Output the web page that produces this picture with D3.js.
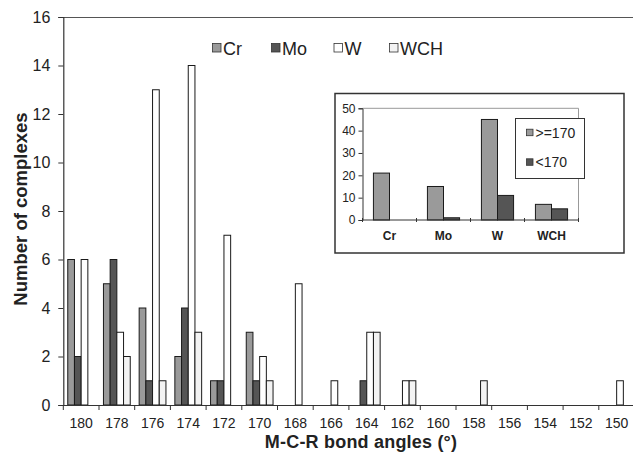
<!DOCTYPE html>
<html><head><meta charset="utf-8">
<script src="https://cdn.jsdelivr.net/npm/d3@7/dist/d3.min.js"></script>
<style>
html,body{margin:0;padding:0;background:#fff;}
svg{display:block;font-family:"Liberation Sans",Arial,sans-serif;}
</style></head>
<body>
<svg id="chart" width="633" height="453"></svg>
<script>
// ---- data ----
const angles = [180,178,176,174,172,170,168,166,164,162,160,158,156,154,152,150];
const seriesNames = ["Cr","Mo","W","WCH"];
const crValues  = [6,5,4,2,1,3,0,0,0,0,0,0,0,0,0,0];
const moValues  = [2,6,1,4,1,1,0,0,1,0,0,0,0,0,0,0];
const wValues   = [6,3,13,14,7,2,5,1,3,1,0,0,0,0,0,1];
const wchValues = [0,2,1,3,0,1,0,0,3,1,0,1,0,0,0,0];
const yTicks = [0,2,4,6,8,10,12,14,16];

const insetGroups = ["Cr","Mo","W","WCH"];
const insetSeries = [">=170","<170"];
const insetGe170 = [21,15,45,7];
const insetLt170 = [0,1,11,5];
const insetTicks = [0,10,20,30,40,50];

// ---- styling ----
const colors = {Cr:"#9a9a9a", Mo:"#555555", W:"#ffffff", WCH:"#f3f3f3"};
const insetColors = {">=170":"#9a9a9a", "<170":"#555555"};
const ink = "#222";

const svg = d3.select("#chart");

// ---- main chart ----
const M = {left:63.3, right:634.5, top:17, bottom:405};
const x = d3.scaleBand().domain(angles).range([M.left, M.right]).paddingInner(0).paddingOuter(0);
const xs = d3.scaleBand().domain(seriesNames).range([0, x.bandwidth()]).paddingInner(0).paddingOuter(0.665);
const y = d3.scaleLinear().domain([0,16]).range([M.bottom, M.top]);

const seriesData = {Cr:crValues, Mo:moValues, W:wValues, WCH:wchValues};

// top border
svg.append("line").attr("x1",M.left).attr("x2",633).attr("y1",M.top+0.5).attr("y2",M.top+0.5)
  .attr("stroke","#555").attr("stroke-width",1.2);

// bars
seriesNames.forEach(s => {
  svg.append("g").selectAll("rect")
    .data(angles.map((a,i)=>({a, v:seriesData[s][i]})).filter(d=>d.v>0))
    .join("rect")
    .attr("x", d => x(d.a) + xs(s))
    .attr("width", xs.bandwidth())
    .attr("y", d => y(d.v))
    .attr("height", d => y(0) - y(d.v))
    .attr("fill", colors[s])
    .attr("stroke", "#1a1a1a")
    .attr("stroke-width", 1);
});

// y axis
const yAxis = d3.axisLeft(y).tickValues(yTicks).tickSize(5).tickPadding(8);
const gy = svg.append("g").attr("transform",`translate(${M.left},0)`).call(yAxis);
gy.select(".domain").attr("stroke","#333").attr("stroke-width",1.2);
gy.selectAll(".tick line").attr("stroke","#333");
gy.selectAll("text").attr("font-size",16).attr("fill",ink).attr("font-family","Liberation Sans, Arial, sans-serif");

// x axis (tick marks on band boundaries)
const gx = svg.append("g").attr("transform",`translate(0,${M.bottom})`);
gx.append("line").attr("x1",M.left).attr("x2",633).attr("y1",0.5).attr("y2",0.5).attr("stroke","#333").attr("stroke-width",1.2);
gx.selectAll("line.tk").data(angles).join("line").attr("class","tk")
  .attr("x1", d=>x(d)).attr("x2", d=>x(d)).attr("y1",0).attr("y2",5).attr("stroke","#333");
const xAxis = d3.axisBottom(x).tickSize(0).tickPadding(13);
const gxl = svg.append("g").attr("transform",`translate(0,${M.bottom})`).call(xAxis);
gxl.select(".domain").remove();
gxl.selectAll("text").attr("font-size",14).attr("fill",ink).attr("font-family","Liberation Sans, Arial, sans-serif");

// axis titles
svg.append("text").attr("x",361).attr("y",448).attr("text-anchor","middle")
  .attr("font-size",18).attr("font-weight","bold").attr("letter-spacing",0.2).attr("fill",ink).text("M-C-R bond angles (°)");
svg.append("text").attr("transform","translate(26.5,209) rotate(-90)").attr("text-anchor","middle")
  .attr("font-size",18.5).attr("font-weight","bold").attr("fill",ink).text("Number of complexes");

// legend
const legendX = [212.5, 271.5, 334, 389.5];
const lg = svg.append("g");
seriesNames.forEach((s,i) => {
  lg.append("rect").attr("x",legendX[i]).attr("y",43.5).attr("width",8.5).attr("height",8.5)
    .attr("fill",colors[s]).attr("stroke","#333").attr("stroke-width",0.8);
  lg.append("text").attr("x",legendX[i]+10.5).attr("y",54.5).attr("font-size",18).attr("fill",ink).text(s);
});

// ---- inset ----
const I = {x0:335, y0:93.5, x1:624, y1:253};
svg.append("rect").attr("x",I.x0).attr("y",I.y0).attr("width",I.x1-I.x0).attr("height",I.y1-I.y0)
  .attr("fill","#fff").attr("stroke","#333").attr("stroke-width",1.5);

const IP = {left:362.5, right:578.5, top:108.3, bottom:220};
const ix = d3.scaleBand().domain(insetGroups).range([IP.left, IP.right]).paddingInner(0).paddingOuter(0);
const ixs = d3.scaleBand().domain(insetSeries).range([0, ix.bandwidth()]).paddingOuter(0.68);
const iy = d3.scaleLinear().domain([0,50]).range([IP.bottom, IP.top]);

// plot area border (grey)
svg.append("path").attr("d",`M${IP.left},${IP.top}H${IP.right}V${IP.bottom}`)
  .attr("fill","none").attr("stroke","#999").attr("stroke-width",1);

const insetData = {">=170":insetGe170, "<170":insetLt170};
insetSeries.forEach(s => {
  svg.append("g").selectAll("rect")
    .data(insetGroups.map((g,i)=>({g, v:insetData[s][i]})).filter(d=>d.v>0))
    .join("rect")
    .attr("x", d => ix(d.g) + ixs(s))
    .attr("width", ixs.bandwidth())
    .attr("y", d => iy(d.v))
    .attr("height", d => iy(0) - iy(d.v))
    .attr("fill", insetColors[s])
    .attr("stroke", "#1a1a1a").attr("stroke-width", 1);
});

const iyAxis = d3.axisLeft(iy).tickValues(insetTicks).tickSize(4).tickPadding(3);
const giy = svg.append("g").attr("transform",`translate(${IP.left},0)`).call(iyAxis);
giy.select(".domain").attr("stroke","#333");
giy.selectAll(".tick line").attr("stroke","#333");
giy.selectAll("text").attr("font-size",12).attr("fill",ink).attr("font-family","Liberation Sans, Arial, sans-serif");

const gix = svg.append("g").attr("transform",`translate(0,${IP.bottom})`);
gix.append("line").attr("x1",IP.left).attr("x2",IP.right).attr("y1",0).attr("y2",0).attr("stroke","#333");
gix.selectAll("line.tk").data(insetGroups.concat(["end"])).join("line").attr("class","tk")
  .attr("x1",(d,i)=>IP.left+i*ix.step()).attr("x2",(d,i)=>IP.left+i*ix.step())
  .attr("y1",-2).attr("y2",2).attr("stroke","#333");
const ixAxis = d3.axisBottom(ix).tickSize(0).tickPadding(11);
const gixl = svg.append("g").attr("transform",`translate(0,${IP.bottom})`).call(ixAxis);
gixl.select(".domain").remove();
gixl.selectAll("text").attr("font-size",12).attr("font-weight","bold").attr("fill",ink)
  .attr("font-family","Liberation Sans, Arial, sans-serif");

// inset legend
svg.append("rect").attr("x",515.5).attr("y",118.5).attr("width",69).attr("height",60)
  .attr("fill","#fff").attr("stroke","#333").attr("stroke-width",1);
insetSeries.forEach((s,i) => {
  const cy = 132.7 + i*29.6;
  svg.append("rect").attr("x",526.5).attr("y",cy-3.5).attr("width",6.5).attr("height",6.5)
    .attr("fill",insetColors[s]).attr("stroke","#333").attr("stroke-width",0.8);
  svg.append("text").attr("x",535.5).attr("y",cy+5).attr("font-size",14).attr("fill",ink).text(s);
});
</script>
</body></html>
